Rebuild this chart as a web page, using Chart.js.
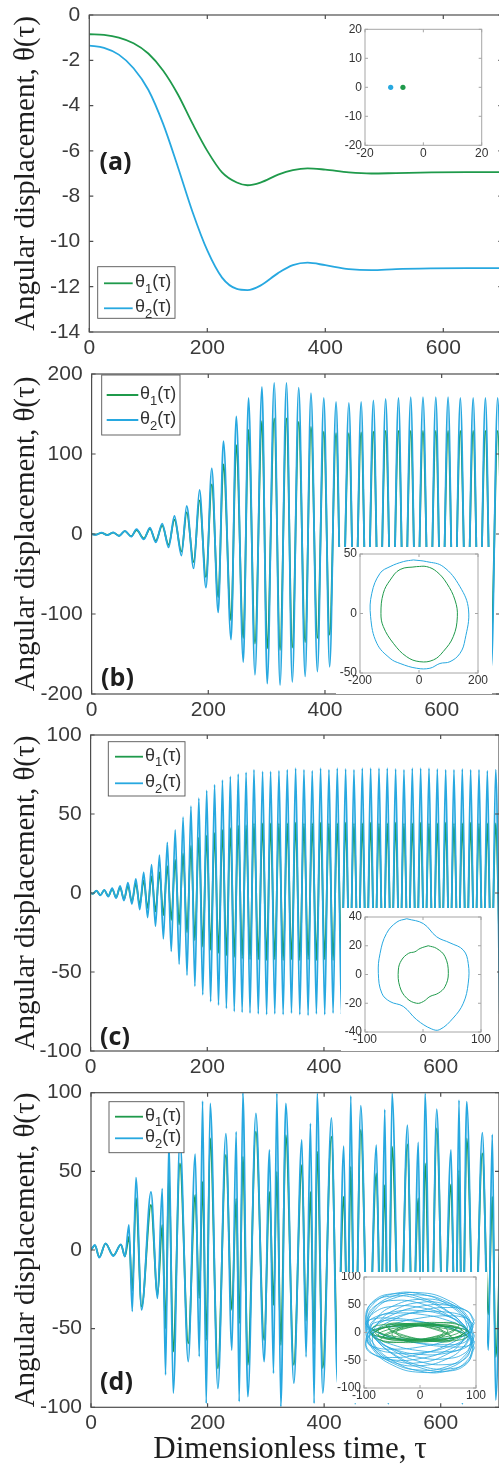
<!DOCTYPE html>
<html>
<head>
<meta charset="utf-8">
<title>Angular displacement θ(τ) — panels (a)–(d)</title>
<script src="https://cdn.jsdelivr.net/npm/chart.js@4.4.1/dist/chart.umd.min.js"></script>
<style>
  html, body { margin:0; padding:0; background:#ffffff; overflow:hidden; }
  #page { position:relative; width:499px; height:1468px; overflow:hidden; background:#ffffff; }
  #page canvas { position:absolute; display:block; }
</style>
</head>
<body>
<div id="page"></div>
<script>
// ---------------- DATA ----------------
const timeTicks = [0, 200, 400, 600];
const aYTicks = [0, -2, -4, -6, -8, -10, -12, -14];
const bYTicks = [200, 100, 0, -100, -200];
const cYTicks = [100, 50, 0, -50, -100];
const dYTicks = [100, 50, 0, -50, -100];

const legendBase = ['θ', 'θ'];
const legendSub = ['1', '2'];
const legendTail = ['(τ)', '(τ)'];
const yTitleText = 'Angular displacement, θ(τ)';
const xTitleText = 'Dimensionless time, τ';
const panelNames = ['(a)', '(b)', '(c)', '(d)'];

// panel (a): slow decay to equilibrium
const aTime   = [0, 25, 50, 75, 100, 125, 150, 175, 200, 225, 250, 268, 290, 320, 345, 370, 400, 440, 478, 520, 580, 640, 700];
const aTheta1 = [-0.85, -0.88, -1.0, -1.25, -1.7, -2.45, -3.5, -4.8, -6.0, -6.95, -7.4, -7.52, -7.4, -7.05, -6.85, -6.77, -6.83, -6.95, -7.0, -6.98, -6.95, -6.94, -6.94];
const aTheta2 = [-1.35, -1.45, -1.75, -2.35, -3.3, -4.8, -6.7, -8.7, -10.4, -11.6, -12.1, -12.15, -11.95, -11.4, -11.05, -10.94, -11.05, -11.22, -11.27, -11.22, -11.19, -11.18, -11.18];

// panel (b): extrema (peaks / troughs) of the oscillation
const bTime = [0, 7, 17, 27, 37, 47, 57, 68, 77, 89.5,
  100, 110, 121, 132, 142, 154, 163, 175, 185, 196,
  206, 217, 226, 239, 248, 260, 269, 280, 292, 301,
  313, 323, 334, 344, 355, 366, 376, 387, 398, 408,
  419, 429, 441, 451, 462, 472, 483, 493, 504, 515,
  526, 536, 547, 557, 568, 579, 590, 600, 611, 621,
  632, 643, 654, 664, 675, 685, 696, 706];
const bTheta2 = [0, -1, 1.7, -1.5, 2, -2.5, 4, -3.3, 6, -6.7,
  8, -10.4, 13, -16.7, 22.5, -27, 35, -43, 55, -67,
  82, -98, 116, -132, 147, -160, 170, -176, 184, -187,
  189, -189, 189, -185, 183, -178, 176, -172, 170, -166,
  165, -165, 164, -165, 165, -166, 167, -168, 169, -169,
  170, -170, 171, -170, 171, -170, 171, -170, 171, -170,
  170, -169, 170, -168, 170, -168, 170, -165];
const bTheta1 = [0, -0.8, 1.5, -1.2, 1.8, -2.2, 3.5, -2.8, 5, -5.5,
  6.5, -8.5, 10.5, -13.5, 18, -22, 27, -35, 42, -54,
  62, -79, 87, -108, 111, -130, 130, -137, 141, -143,
  144.6, -145, 144.6, -142, 140, -135, 134, -130, 128, -126,
  126, -126, 126, -126, 127, -127, 128, -128, 129, -129,
  129, -129, 129, -129, 129, -129, 129, -129, 129, -129,
  129, -129, 129, -128, 129, -128, 129, -126];

// panel (c)
const cTime = [0, 3.5, 10, 16.75, 23.5, 30.25, 37, 43.75, 50.5, 57.25,
  64, 70.75, 77.5, 84.25, 91, 97.75, 104.5, 111.25, 118, 124.75,
  131.5, 138.25, 145, 151.75, 158.5, 165.25, 172, 178.75, 185.5, 192.25,
  199, 205.75, 212.5, 219.25, 226, 232.75, 239.5, 246.25, 253, 259.75,
  266.5, 273.25, 280, 287.4, 294.8, 301.7, 308.5, 315.7, 322.8, 330,
  337.1, 344.3, 351.4, 358.6, 365.7, 372.8, 379.9, 387, 394.2, 401.3,
  408.5, 415.6, 422.8, 430, 437.1, 444.3, 451.4, 458.6, 465.7, 472.8,
  480, 487.1, 494.3, 501.4, 508.5, 515.7, 522.8, 530, 537.1, 544.3,
  551.4, 558.6, 565.7, 572.8, 580, 587.1, 594.3, 601.4, 608.6, 615.7,
  622.8, 630, 637.1, 644.3, 651.4, 658.6, 665.7, 672.8, 680, 687.1,
  694.3, 701.4];
const cTheta2 = [0, -0.5, 1.5, -1.5, 2, -2.2, 3, -3.2, 4.5, -4.8,
  6.5, -7, 9, -10.5, 13, -15.5, 18, -21, 24, -29,
  32, -37, 40, -45, 48, -52, 55, -59, 60, -64.5,
  65, -68.8, 68.5, -71, 71.5, -73, 73.8, -75, 75.3, -75.5,
  76.4, -76, 78, -76.5, 77, -77, 77, -76.5, 77.5, -77,
  78, -76, 79, -77, 78, -77.5, 77.5, -76.5, 79, -77,
  78, -76, 79, -77, 78.5, -76.5, 78, -77, 79, -76,
  79, -77, 79, -76.5, 79, -77, 78.5, -76, 78, -77,
  79, -76.5, 79, -77, 79, -76, 78.5, -77, 78, -76.5,
  78, -77, 78.5, -76, 78, -77, 78, -76.5, 77.5, -77,
  78, -76.5];
const cTheta1 = [0, -0.5, 1.3, -1.3, 1.8, -2, 2.5, -2.8, 3.5, -4,
  4.5, -5.5, 6, -7.5, 8, -9.5, 10.5, -11.6, 13, -14,
  17, -17, 21, -20, 25, -25, 30, -30, 35, -34,
  36.5, -36, 38, -38, 40, -39.5, 41, -40.5, 42.6, -41.5,
  43, -42, 44, -42, 44, -42.5, 44, -42, 44, -42.5,
  44, -42, 44.5, -42.5, 44, -42, 44, -42.5, 44.5, -42,
  44, -42.5, 44, -42, 44.5, -42.5, 44, -42, 44, -42.5,
  44.5, -42, 44, -42.5, 44, -42, 44.5, -42.5, 44, -42,
  44, -42.5, 44.5, -42, 44, -42.5, 44, -42, 44.5, -42.5,
  44, -42, 44, -42.5, 44.5, -42, 44, -42.5, 44, -42,
  44, -42.5];

// panel (d)
const dTime = [0, 6.8, 14.2, 25, 38.2, 51.4, 58.3, 65.1, 70.8, 77.1,
  86.8, 102.9, 114.2, 122.2, 127.9, 133.7, 141.1, 152.6, 166.8, 178.8,
  185.7, 191.4, 197.7, 204.5, 217.7, 231.4, 241.7, 249.1, 254.2, 260.6,
  269.1, 282.9, 297.1, 306.2, 313.1, 318.9, 325.7, 334.3, 348, 361.7,
  369, 376.5, 382.8, 388, 397.7, 412.5, 423, 433.7, 440, 445.7,
  453, 462.9, 476, 489.6, 497, 504, 510, 516.5, 530, 542.8,
  552, 561.6, 567, 573.1, 583, 593.2, 605, 617.7, 625, 631.4,
  637, 644.6, 658, 671.4, 681.7, 688.5, 694.3, 704];
const dTheta2 = [0, 3.2, -4.9, 4.2, -3.8, 3.6, -4.2, 15.9, -39, 46,
  -38, 37, -30.7, 39, -79.4, 70, -91, 70, -71, 61,
  -67.8, 94.7, -97.5, 93.2, -88, 74, -63.6, 75.2, -96.4, 100,
  -93.2, 86.9, -71, 63.6, -78.4, 99.6, -99.6, 93.2, -84.7, 70,
  -68, 80.5, -97.5, 99.6, -91, 84, -85, 66, -80, 97.9,
  -98, 91.7, -90, 66.7, -75, 89.4, -98, 99.6, -88, 79.4,
  -80, 68.4, -92, 99.6, -85, 89.6, -75, 63.6, -85, 95.3,
  -98, 94.3, -88, 74.6, -63.6, 73.5, -95.3, 40];
const dTheta1 = [0, 3, -4.5, 4, -3.5, 3.4, -4, 8.5, -26, 33,
  -36, 28.6, -28.6, 16, -50, 47.7, -64.6, 55, -59.3, 35,
  -30.7, 43.4, -57.2, 71, -75.2, 60.4, -38, 32.8, -46.6, 59.3,
  -73, 75.2, -57.2, 37, -35, 49.8, -60.4, 73, -73, 54,
  -45, 37, -60, 62.5, -75, 72, -65, 33.9, -45, 53,
  -70, 76.3, -72, 48.7, -45, 41.3, -65, 65.7, -70, 67.2,
  -55, 32.8, -50, 55, -72, 77.3, -60, 41.7, -55, 50.8,
  -70, 71, -68, 61.4, -41, 33.9, -68, 30];

// insets: phase portraits
const aInsetTicksX = [-20, 0, 20];
const aInsetTicksY = [-20, -10, 0, 10, 20];
const aPoint1 = [-7, 0];
const aPoint2 = [-11.2, 0];

const bInsetTicksX = [-200, 0, 200];
const bInsetTicksY = [-50, 0, 50];
const bPhaseBlueX = [-19, 26, 82, 139, 168, 156, 139, 105, 71, 37, -8, -64, -98, -143, -164, -160, -132, -98, -53, -19];
const bPhaseBlueY = [45, 43.6, 39.4, 22.5, 3, -22, -33.5, -40.5, -42, -46, -46, -42, -37.7, -25, -2.7, 17, 33.8, 39.4, 43.6, 45];
const bPhaseGreenX = [-8, 26, 60, 94, 122, 130, 116, 82, 49, 3, -42, -87, -121, -129, -121, -98, -64, -8];
const bPhaseGreenY = [39.4, 39.4, 35.2, 25.4, 11.3, -2.7, -19.5, -32, -39, -40.5, -36.3, -25, -11, 0.1, 17, 28, 37, 39.4];

const cInsetTicksX = [-100, 0, 100];
const cInsetTicksY = [-40, -20, 0, 20, 40];
const cPhaseBlueX = [-28, 0.6, 23.6, 46.6, 69.5, 78, 78, 69.5, 52, 29, 15, -11, -34, -57, -71, -77, -74, -63, -45, -28];
const cPhaseBlueY = [38.8, 35.4, 26.2, 22, 17, 7.7, -6, -20, -30.3, -38.3, -37.9, -31.4, -22.2, -18.8, -13, 0.8, 14.7, 28.5, 36.5, 38.8];
const cPhaseGreenX = [9, 23.6, 38, 43.7, 38, 26.4, 12, 0.6, -11, -28, -40, -42.5, -37, -25, -14, -5, 9];
const cPhaseGreenY = [20, 18.1, 12.4, 0.8, -8.4, -13, -15.3, -18.8, -20, -16.5, -8.4, 3.1, 10, 14.7, 15.8, 18.1, 20];

const dInsetTicksX = [-100, 0, 100];
const dInsetTicksY = [-100, -50, 0, 50, 100];
const dLoopX97 = [97, 84, 48.5, 0, -48.5, -84, -97, -84, -48.5, 0, 48.5, 84, 97];
const dLoopX95 = [95, 82.3, 47.5, 0, -47.5, -82.3, -95, -82.3, -47.5, 0, 47.5, 82.3, 95];
const dLoopX93 = [93, 80.5, 46.5, 0, -46.5, -80.5, -93, -80.5, -46.5, 0, 46.5, 80.5, 93];
const dLoopX92 = [92, 79.7, 46, 0, -46, -79.7, -92, -79.7, -46, 0, 46, 79.7, 92];
const dLoopX90 = [90, 78, 45, 0, -45, -78, -90, -78, -45, 0, 45, 78, 90];
const dLoopX88 = [88, 76.2, 44, 0, -44, -76.2, -88, -76.2, -44, 0, 44, 76.2, 88];
const dLoopX85 = [85, 73.6, 42.5, 0, -42.5, -73.6, -85, -73.6, -42.5, 0, 42.5, 73.6, 85];
const dLoopX80 = [80, 69.3, 40, 0, -40, -69.3, -80, -69.3, -40, 0, 40, 69.3, 80];
const dLoopX75 = [75, 65, 37.5, 0, -37.5, -65, -75, -65, -37.5, 0, 37.5, 65, 75];
const dLoopX70 = [70, 60.6, 35, 0, -35, -60.6, -70, -60.6, -35, 0, 35, 60.6, 70];
const dLoopX65 = [65, 56.3, 32.5, 0, -32.5, -56.3, -65, -56.3, -32.5, 0, 32.5, 56.3, 65];
const dLoopX60 = [60, 52, 30, 0, -30, -52, -60, -52, -30, 0, 30, 52, 60];
const dLoopX55 = [55, 47.6, 27.5, 0, -27.5, -47.6, -55, -47.6, -27.5, 0, 27.5, 47.6, 55];
const dLoopX50 = [50, 43.3, 25, 0, -25, -43.3, -50, -43.3, -25, 0, 25, 43.3, 50];
const dLoopX42 = [42, 36.4, 21, 0, -21, -36.4, -42, -36.4, -21, 0, 21, 36.4, 42];
const dPhaseBlueX = [dLoopX97, dLoopX95, dLoopX93, dLoopX97, dLoopX90, dLoopX95, dLoopX88, dLoopX97, dLoopX92, dLoopX85, dLoopX95, dLoopX97,
  dLoopX95, dLoopX97, dLoopX93, dLoopX90, dLoopX97, dLoopX95];
const dPhaseBlueY = [
  [-18.6, 18.6, 50.9, 69.6, 69.6, 50.9, 18.6, -18.6, -50.9, -69.6, -69.6, -50.9, -18.6],
  [-5.9, 28.8, 55.7, 67.7, 61.6, 39, 5.9, -28.8, -55.7, -67.7, -61.6, -39, -5.9],
  [-24.5, 5, 33.3, 52.5, 57.8, 47.5, 24.5, -5, -33.3, -52.5, -57.8, -47.5, -24.5],
  [17.1, 38.3, 49.3, 47, 32.2, 8.7, -17.1, -38.3, -49.3, -47, -32.2, -8.7, 17.1],
  [-7, 13.7, 30.6, 39.4, 37.6, 25.7, 7, -13.7, -30.6, -39.4, -37.6, -25.7, -7],
  [15, 26, 30, 26, 15, 0, -15, -26, -30, -26, -15, 0, 15],
  [-11, 0, 11, 19, 22, 19, 11, 0, -11, -19, -22, -19, -11],
  [-27.9, 5.7, 37.9, 59.8, 65.7, 54.1, 27.9, -5.7, -37.9, -59.8, -65.7, -54.1, -27.9],
  [0, 6, 10.4, 12, 10.4, 6, 0, -6, -10.4, -12, -10.4, -6, 0],
  [9.6, 35.4, 51.7, 54.2, 42.1, 18.8, -9.6, -35.4, -51.7, -54.2, -42.1, -18.8, 9.6],
  [-12, 6.1, 22.5, 32.9, 34.5, 26.8, 12, -6.1, -22.5, -32.9, -34.5, -26.8, -12],
  [22.5, 39, 45, 39, 22.5, 0, -22.5, -39, -45, -39, -22.5, 0, 22.5],
  [-29.6, 6.1, 40.2, 63.4, 69.7, 57.3, 29.6, -6.1, -40.2, -63.4, -69.7, -57.3, -29.6],
  [-6.3, 30.5, 59, 71.7, 65.2, 41.3, 6.3, -30.5, -59, -71.7, -65.2, -41.3, -6.3],
  [-16.4, 8.4, 30.9, 45.1, 47.3, 36.8, 16.4, -8.4, -30.9, -45.1, -47.3, -36.8, -16.4],
  [5.2, 34.4, 54.4, 59.8, 49.1, 25.4, -5.2, -34.4, -54.4, -59.8, -49.1, -25.4, 5.2],
  [-16.7, -4.5, 8.9, 19.9, 25.6, 24.4, 16.7, 4.5, -8.9, -19.9, -25.6, -24.4, -16.7],
  [9.8, 26.9, 36.7, 36.7, 26.9, 9.8, -9.8, -26.9, -36.7, -36.7, -26.9, -9.8, 9.8]
];
const dPhaseGreenX = [dLoopX85, dLoopX75, dLoopX65, dLoopX55, dLoopX42, dLoopX80, dLoopX70, dLoopX60,
  dLoopX85, dLoopX75, dLoopX50, dLoopX88];
const dPhaseGreenY = [
  [4.7, 12.7, 17.4, 17.4, 12.7, 4.7, -4.7, -12.7, -17.4, -17.4, -12.7, -4.7, 4.7],
  [-4.1, 4.1, 11.3, 15.5, 15.5, 11.3, 4.1, -4.1, -11.3, -15.5, -15.5, -11.3, -4.1],
  [7, 12.1, 14, 12.1, 7, 0, -7, -12.1, -14, -12.1, -7, 0, 7],
  [-7, 0, 7, 12.1, 14, 12.1, 7, 0, -7, -12.1, -14, -12.1, -7],
  [0, 6.5, 11.3, 13, 11.3, 6.5, 0, -6.5, -11.3, -13, -11.3, -6.5, 0],
  [0, 7, 12.1, 14, 12.1, 7, 0, -7, -12.1, -14, -12.1, -7, 0],
  [12.7, 17.4, 17.4, 12.7, 4.7, -4.7, -12.7, -17.4, -17.4, -12.7, -4.7, 4.7, 12.7],
  [-12, -4.4, 4.4, 12, 16.4, 16.4, 12, 4.4, -4.4, -12, -16.4, -16.4, -12],
  [-7.5, 0, 7.5, 13, 15, 13, 7.5, 0, -7.5, -13, -15, -13, -7.5],
  [4.8, 10.7, 13.8, 13.2, 9, 2.4, -4.8, -10.7, -13.8, -13.2, -9, -2.4, 4.8],
  [2.8, 10.3, 15, 15.8, 12.3, 5.5, -2.8, -10.3, -15, -15.8, -12.3, -5.5, 2.8],
  [0, 6.5, 11.3, 13, 11.3, 6.5, 0, -6.5, -11.3, -13, -11.3, -6.5, 0]
];

// ---------------- STYLE ----------------
const BLUE = '#27a8e0';
const GREEN = '#1f9a4b';
const AXIS = '#4d4d4d';
const TEXT = '#3a3a3a';
const TICK_FONT = '21px "Liberation Sans", Arial, Helvetica, sans-serif';
const TITLE_FONT = '29px "Liberation Serif", "Times New Roman", serif';
const XTITLE_FONT = '31px "Liberation Serif", "Times New Roman", serif';
const PANEL_FONT = 'bold 25px "Open Sans", "DejaVu Sans", sans-serif';
const LEG_FONT = '18px "Liberation Sans", Arial, sans-serif';
const LEG_SUB_FONT = '13px "Liberation Sans", Arial, sans-serif';
const INSET_FONT = '12px "Liberation Sans", Arial, sans-serif';

function pts(xs, ys) { return xs.map((x, i) => ({ x: x, y: ys[i] })); }

function addCanvas(left, top, w, h, bg) {
  const c = document.createElement('canvas');
  c.width = w; c.height = h;
  c.style.left = left + 'px'; c.style.top = top + 'px';
  c.style.width = w + 'px'; c.style.height = h + 'px';
  if (bg) c.style.background = '#ffffff';
  document.getElementById('page').appendChild(c);
  return c;
}

function drawLegend(ctx, L) {
  ctx.fillStyle = '#ffffff';
  ctx.fillRect(L.x, L.y, L.w, L.h);
  ctx.strokeStyle = '#555555'; ctx.lineWidth = 0.9;
  ctx.strokeRect(L.x, L.y, L.w, L.h);
  L.items.forEach((iy, i) => {
    ctx.strokeStyle = i === 0 ? GREEN : BLUE; ctx.lineWidth = 1.8;
    ctx.beginPath(); ctx.moveTo(L.lx0, iy); ctx.lineTo(L.lx1, iy); ctx.stroke();
    ctx.fillStyle = '#333333'; ctx.textAlign = 'left'; ctx.textBaseline = 'middle';
    let x = L.tx;
    ctx.font = LEG_FONT; ctx.fillText(legendBase[i], x, iy - 1); x += ctx.measureText(legendBase[i]).width;
    ctx.font = LEG_SUB_FONT; ctx.fillText(legendSub[i], x, iy + 6); x += ctx.measureText(legendSub[i]).width;
    ctx.font = LEG_FONT; ctx.fillText(legendTail[i], x, iy - 1);
  });
}

const framePlugin = {
  id: 'frame',
  afterDraw(chart, _args, o) {
    const ctx = chart.ctx, a = chart.chartArea, xs = chart.scales.x, ys = chart.scales.y;
    ctx.save();
    if (o.legend) drawLegend(ctx, o.legend);
    ctx.strokeStyle = AXIS; ctx.lineWidth = 1.2;
    ctx.strokeRect(a.left, a.top, a.right - a.left, a.bottom - a.top);
    ctx.beginPath();
    o.xTicks.forEach(v => { const p = xs.getPixelForValue(v);
      ctx.moveTo(p, a.bottom); ctx.lineTo(p, a.bottom - 4); ctx.moveTo(p, a.top); ctx.lineTo(p, a.top + 4); });
    o.yTicks.forEach(v => { const p = ys.getPixelForValue(v);
      ctx.moveTo(a.left, p); ctx.lineTo(a.left + 4, p); ctx.moveTo(a.right, p); ctx.lineTo(a.right - 4, p); });
    ctx.stroke();
    ctx.fillStyle = TEXT; ctx.font = TICK_FONT; ctx.textBaseline = 'middle';
    ctx.textAlign = 'right';
    o.yTicks.forEach(v => ctx.fillText(String(v), a.left - 9, ys.getPixelForValue(v)));
    ctx.textAlign = 'center';
    o.xTicks.forEach(v => ctx.fillText(String(v), xs.getPixelForValue(v), a.bottom + 16));
    ctx.save();
    ctx.translate(26, (a.top + a.bottom) / 2); ctx.rotate(-Math.PI / 2);
    ctx.font = TITLE_FONT; ctx.fillStyle = '#1e1e1e'; ctx.textAlign = 'center'; ctx.textBaseline = 'middle';
    ctx.fillText(o.yTitle, 0, 0);
    ctx.restore();
    ctx.font = PANEL_FONT; ctx.fillStyle = '#1e1e1e'; ctx.textAlign = 'center'; ctx.textBaseline = 'middle';
    ctx.fillText(o.panel, o.panelX, o.panelY);
    if (o.xTitle) {
      ctx.font = XTITLE_FONT; ctx.fillStyle = '#1e1e1e';
      ctx.fillText(o.xTitle, (a.left + a.right) / 2 - 5, a.bottom + 43);
    }
    ctx.restore();
  }
};

const insetPlugin = {
  id: 'insetFrame',
  afterDraw(chart, _args, o) {
    const ctx = chart.ctx, a = chart.chartArea, xs = chart.scales.x, ys = chart.scales.y;
    ctx.save();
    ctx.strokeStyle = '#a6a6a6'; ctx.lineWidth = 1;
    ctx.strokeRect(a.left, a.top, a.right - a.left, a.bottom - a.top);
    ctx.beginPath();
    o.xTicks.forEach(v => { const p = xs.getPixelForValue(v);
      ctx.moveTo(p, a.bottom); ctx.lineTo(p, a.bottom - 3); ctx.moveTo(p, a.top); ctx.lineTo(p, a.top + 3); });
    o.yTicks.forEach(v => { const p = ys.getPixelForValue(v);
      ctx.moveTo(a.left, p); ctx.lineTo(a.left + 3, p); ctx.moveTo(a.right, p); ctx.lineTo(a.right - 3, p); });
    ctx.stroke();
    ctx.fillStyle = '#333333'; ctx.font = INSET_FONT; ctx.textBaseline = 'middle';
    ctx.textAlign = 'right';
    o.yTicks.forEach(v => ctx.fillText(String(v), a.left - 3, ys.getPixelForValue(v)));
    ctx.textAlign = 'center';
    o.xTicks.forEach(v => ctx.fillText(String(v), xs.getPixelForValue(v), a.bottom + 8));
    ctx.restore();
  }
};

function makeMain(p) {
  const cv = addCanvas(0, p.top, 512, p.h, false);
  const sh = (L) => L ? Object.assign({}, L, { y: L.y - p.top, items: L.items.map(v => v - p.top) }) : null;
  new Chart(cv, {
    type: 'line',
    data: { datasets: [
      { label: 'θ1(τ)', data: pts(p.t, p.s1), borderColor: GREEN, borderWidth: 1.8, pointRadius: 0, fill: false, cubicInterpolationMode: 'monotone', order: 1 },
      { label: 'θ2(τ)', data: pts(p.t, p.s2), borderColor: BLUE, borderWidth: 1.8, pointRadius: 0, fill: false, cubicInterpolationMode: 'monotone', order: 0 }
    ] },
    options: {
      responsive: false, animation: false, events: [], devicePixelRatio: 1,
      layout: { padding: p.pad },
      scales: {
        x: { type: 'linear', min: 0, max: 700, display: false },
        y: { type: 'linear', min: p.yMin, max: p.yMax, display: false }
      },
      plugins: {
        legend: { display: false }, tooltip: { enabled: false },
        frame: { xTicks: timeTicks, yTicks: p.yTicks, yTitle: yTitleText, panel: p.panel,
                 panelX: p.panelPos[0], panelY: p.panelPos[1] - p.top, legend: sh(p.legend), xTitle: p.xTitle || null }
      }
    },
    plugins: [framePlugin]
  });
}

function makeInset(p) {
  const cv = addCanvas(p.left, p.top, p.w, p.h, true);
  new Chart(cv, {
    type: 'scatter',
    data: { datasets: p.datasets },
    options: {
      responsive: false, animation: false, events: [], devicePixelRatio: 1,
      layout: { padding: p.pad },
      scales: {
        x: { type: 'linear', min: p.xMin, max: p.xMax, display: false },
        y: { type: 'linear', min: p.yMin, max: p.yMax, display: false }
      },
      plugins: { legend: { display: false }, tooltip: { enabled: false },
        insetFrame: { xTicks: p.xTicks, yTicks: p.yTicks } }
    },
    plugins: [insetPlugin]
  });
}

function loop(xs, ys, color, width, order, tension) {
  return { data: pts(xs, ys), showLine: true, borderColor: color, borderWidth: width, pointRadius: 0, fill: false, tension: tension, order: order };
}

// ---------------- MAIN PANELS ----------------
makeMain({ top: 0, h: 360, pad: { left: 89.3, top: 15, right: 9.7, bottom: 28 }, yMin: -14, yMax: 0, yTicks: aYTicks,
  t: aTime, s1: aTheta1, s2: aTheta2, panel: panelNames[0], panelPos: [115.5, 163],
  legend: { x: 97.7, y: 266.7, w: 77.3, h: 51.6, items: [283.3, 308.3], lx0: 104, lx1: 132.7, tx: 135 } });
makeMain({ top: 360, h: 362, pad: { left: 91.6, top: 14, right: 12, bottom: 28 }, yMin: -200, yMax: 200, yTicks: bYTicks,
  t: bTime, s1: bTheta1, s2: bTheta2, panel: panelNames[1], panelPos: [117.5, 679],
  legend: { x: 101.7, y: 375, w: 78.3, h: 60, items: [395, 420], lx0: 106.7, lx1: 138.3, tx: 140 } });
makeMain({ top: 720, h: 362, pad: { left: 90.6, top: 15, right: 13, bottom: 31 }, yMin: -100, yMax: 100, yTicks: cYTicks,
  t: cTime, s1: cTheta1, s2: cTheta2, panel: panelNames[2], panelPos: [115, 1037.5],
  legend: { x: 108.3, y: 741.7, w: 76.7, h: 54.3, items: [756.7, 783.3], lx0: 115, lx1: 143, tx: 145 } });
makeMain({ top: 1070, h: 398, pad: { left: 91, top: 22.7, right: 13, bottom: 60.7 }, yMin: -100, yMax: 100, yTicks: dYTicks,
  t: dTime, s1: dTheta1, s2: dTheta2, panel: panelNames[3], panelPos: [116.5, 1383], xTitle: xTitleText,
  legend: { x: 109, y: 1101.7, w: 75, h: 51, items: [1116.7, 1138.3], lx0: 115, lx1: 143, tx: 145 } });

// ---------------- INSETS ----------------
makeInset({ left: 330, top: 20, w: 160, h: 145, pad: { left: 35, top: 9.3, right: 8.3, bottom: 19.7 },
  xMin: -20, xMax: 20, yMin: -20, yMax: 20, xTicks: aInsetTicksX, yTicks: aInsetTicksY,
  datasets: [
    { data: [{ x: aPoint1[0], y: aPoint1[1] }], pointRadius: 2.6, backgroundColor: GREEN, borderWidth: 0 },
    { data: [{ x: aPoint2[0], y: aPoint2[1] }], pointRadius: 2.6, backgroundColor: BLUE, borderWidth: 0 }
  ] });
makeInset({ left: 336, top: 547, w: 156, h: 147, pad: { left: 24, top: 7, right: 14, bottom: 21 },
  xMin: -200, xMax: 200, yMin: -50, yMax: 50, xTicks: bInsetTicksX, yTicks: bInsetTicksY,
  datasets: [ loop(bPhaseGreenX, bPhaseGreenY, GREEN, 1, 1, 0.4), loop(bPhaseBlueX, bPhaseBlueY, BLUE, 1, 0, 0.4) ] });
makeInset({ left: 341, top: 908, w: 156, h: 143, pad: { left: 24, top: 9, right: 16, bottom: 19 },
  xMin: -100, xMax: 100, yMin: -40, yMax: 40, xTicks: cInsetTicksX, yTicks: cInsetTicksY,
  datasets: [ loop(cPhaseGreenX, cPhaseGreenY, GREEN, 1, 1, 0.4), loop(cPhaseBlueX, cPhaseBlueY, BLUE, 1, 0, 0.4) ] });
const dInsetSets = [];
dPhaseBlueX.forEach((xs, i) => dInsetSets.push(loop(xs, dPhaseBlueY[i], BLUE, 0.8, 2, 0.45)));
dPhaseGreenX.forEach((xs, i) => dInsetSets.push(loop(xs, dPhaseGreenY[i], GREEN, 0.8, 0, 0.45)));
makeInset({ left: 337, top: 1272, w: 150, h: 131, pad: { left: 27, top: 5, right: 11, bottom: 15 },
  xMin: -100, xMax: 100, yMin: -100, yMax: 100, xTicks: dInsetTicksX, yTicks: dInsetTicksY,
  datasets: dInsetSets });
</script>
</body>
</html>
